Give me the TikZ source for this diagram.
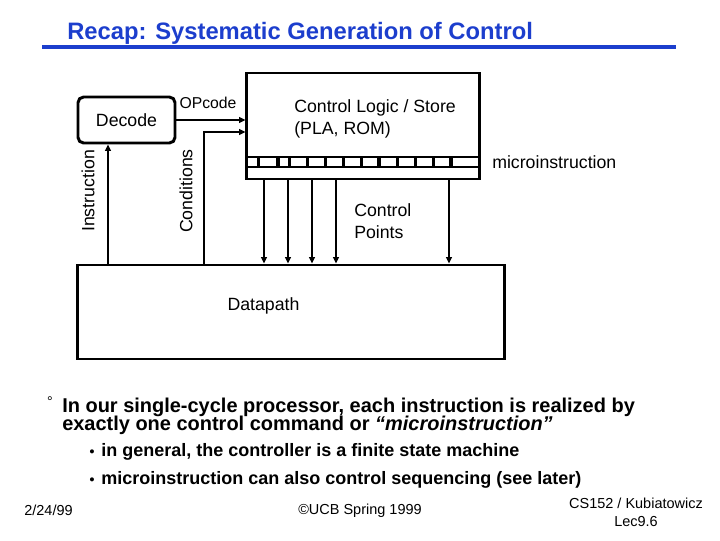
\documentclass[tikz,border=0pt]{standalone}
\usepackage{fontspec}
\setmainfont{Liberation Sans}
\usetikzlibrary{arrows.meta,positioning}
\definecolor{titleblue}{RGB}{28,62,205}
\tikzset{
  box/.style={draw,line width=2.1pt,inner sep=0pt},
  arr/.style={line width=1.4pt,-{Triangle[length=4.5pt,width=4pt]}},
  lbl/.style={font=\fontsize{12.6}{15.6}\selectfont,inner sep=0pt},
  bul/.style={font=\bfseries\fontsize{12.8}{12.8}\selectfont,inner sep=0pt,anchor=base west},
  mainbul/.style={bul,font=\bfseries\fontsize{14.2}{14.2}\selectfont},
  subdot/.style={inner sep=0pt,anchor=base,font=\bfseries\fontsize{10}{10}\selectfont},
  foot/.style={font=\fontsize{10.3}{12.8}\selectfont,inner sep=0pt,align=center},
}
\begin{document}
\begin{tikzpicture}[x=0.025cm,y=-0.025cm]
  \useasboundingbox (0,0) rectangle (720,540);
  % title
  \node[anchor=west,inner sep=0pt,text=titleblue,font=\bfseries\fontsize{16.9}{18}\selectfont] (title) at (67,33) {Recap: Systematic Generation of Control};
  \draw[titleblue,line width=3pt] (42,47) -- (676,47);

  % blocks
  \node[box,minimum width=5.8cm,minimum height=2.65cm] (ctrl) at (363,126) {};
  \node[box,minimum width=10.65cm,minimum height=2.35cm] (dp) at (291,312) {};
  \node[box,rounded corners=4pt,minimum width=2.425cm,minimum height=1.15cm,lbl] (decode) at (126.5,120) {Decode};

  % microinstruction register
  \draw[line width=2.1pt] (247,157) -- (479,157);
  \draw[line width=2.1pt] (247,167) -- (479,167);
  \foreach \x in {258.5,278,289.5,307.5,325.5,343.5,361.5,379,397.5,415.5,433.5,451}
    \draw[line width=2.4pt] (\x,157) -- (\x,167);

  % connectors
  \coordinate (instr) at (108,0);
  \coordinate (cond) at (204,132);
  \draw[arr] (decode.east) -- (decode.east -| ctrl.west);
  \draw[arr] (instr |- dp.north) -- (instr |- decode.south);
  \draw[arr] (cond |- dp.north) |- (cond -| ctrl.west);
  \foreach \x [count=\i] in {264,288,312,336,449} {
    \coordinate (cp\i) at (\x,0);
    \draw[arr] (cp\i |- ctrl.south) -- (cp\i |- dp.north);
  }

  % labels
  \node[lbl,font=\fontsize{11.2}{13}\selectfont] (opcode) at (208,103) {OPcode};
  \node[lbl,anchor=west,align=left] (ctrltext) at (294,119) {Control Logic / Store\\(PLA, ROM)};
  \node[lbl,anchor=west] (microtext) at (492,162) {microinstruction};
  \node[lbl,anchor=west,align=left] (cptext) at (354,221) {Control\\Points};
  \node[lbl] (dptext) at (263.5,306) {Datapath};
  \node[lbl,rotate=90] (instrtext) at (88,191) {Instruction};
  \node[lbl,rotate=90] (condtext) at (186,191) {Conditions};

  % bullets
  \node[inner sep=0pt,font=\fontsize{10}{10}\selectfont] (dot) at (50,402) {°};
  \node[mainbul] (pt1) at (62,412) {In our single-cycle processor, each instruction is realized by};
  \node[mainbul] (pt2) at (62,430) {exactly one control command or \textit{“microinstruction”}};
  \node[subdot] (sb1) at (92,456) {•};
  \node[bul] (pt3) at (101,456) {in general, the controller is a finite state machine};
  \node[subdot] (sb2) at (92,484) {•};
  \node[bul] (pt4) at (101,484) {microinstruction can also control sequencing (see later)};

  % footer
  \node[foot] (date) at (48.5,510) {2/24/99};
  \node[foot] (copy) at (360,511) {©UCB Spring 1999};
  \node[foot] (course) at (636,512) {CS152 / Kubiatowicz\\Lec9.6};
\end{tikzpicture}
\end{document}
